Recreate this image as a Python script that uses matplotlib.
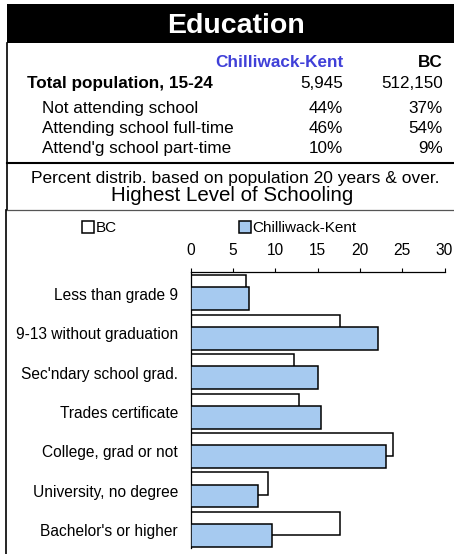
import matplotlib
matplotlib.use("Agg")
import matplotlib.pyplot as plt
from matplotlib.patches import Rectangle
from matplotlib.lines import Line2D

plt.rcParams['font.family'] = ['Liberation Sans', 'DejaVu Sans']

# header table
region = "Chilliwack-Kent"
province = "BC"
total_label = "Total population, 15-24"
total_ck = "5,945"
total_bc = "512,150"
row_labels = ["Not attending school", "Attending school full-time", "Attend'g school part-time"]
row_ck = ["44%", "46%", "10%"]
row_bc = ["37%", "54%", "9%"]

# chart data (percent)
categories = ["Less than grade 9", "9-13 without graduation", "Sec'ndary school grad.",
              "Trades certificate", "College, grad or not", "University, no degree",
              "Bachelor's or higher"]
bc_vals = [6.6, 17.6, 12.2, 12.8, 23.9, 9.1, 17.6]
ck_vals = [6.9, 22.1, 15.1, 15.4, 23.1, 8.0, 9.6]
xticks = [0, 5, 10, 15, 20, 25, 30]

W, H = 454, 554
fig = plt.figure(figsize=(W / 100, H / 100), dpi=100)

def fx(x):
    return x / W

def fy(y):
    return 1 - y / H

# title band
fig.patches.append(Rectangle((fx(7), fy(43)), fx(447), 39 / H, transform=fig.transFigure,
                             facecolor='black', edgecolor='none'))
fig.text(fx(236), fy(33), "Education", color='white', fontsize=20.5, fontweight='bold',
         ha='center', va='baseline')

# frame lines
fig.add_artist(Line2D([fx(7), fx(7)], [fy(43), fy(210)], color='black', lw=1.2))
fig.add_artist(Line2D([fx(7), fx(454)], [fy(163), fy(163)], color='black', lw=1.5))
fig.add_artist(Line2D([fx(6), fx(454)], [fy(210), fy(210)], color='#555555', lw=0.9))
fig.add_artist(Line2D([fx(6), fx(6)], [fy(210), fy(554)], color='black', lw=1.2))

# table text
fs = 12.3
fig.text(fx(343), fy(67), region, color='#4040D8', fontsize=fs, fontweight='bold',
         ha='right', va='baseline')
fig.text(fx(443), fy(67), province, color='black', fontsize=fs, fontweight='bold',
         ha='right', va='baseline')
fig.text(fx(27), fy(88), total_label, fontsize=fs, fontweight='bold', ha='left', va='baseline')
fig.text(fx(343), fy(88), total_ck, fontsize=fs, ha='right', va='baseline')
fig.text(fx(443), fy(88), total_bc, fontsize=fs, ha='right', va='baseline')
for i, lab in enumerate(row_labels):
    yb = 113 + 20 * i
    fig.text(fx(42), fy(yb), lab, fontsize=fs, ha='left', va='baseline')
    fig.text(fx(343), fy(yb), row_ck[i], fontsize=fs, ha='right', va='baseline')
    fig.text(fx(443), fy(yb), row_bc[i], fontsize=fs, ha='right', va='baseline')

fig.text(fx(235), fy(183), "Percent distrib. based on population 20 years & over.",
         fontsize=12.5, ha='center', va='baseline')
fig.text(fx(232), fy(201), "Highest Level of Schooling", fontsize=14.8,
         ha='center', va='baseline')

# bar chart
ax = fig.add_axes([fx(190.5), 1 - 548 / H, 254 / W, 276 / H])
pos = list(range(len(categories)))
b1 = ax.barh([p + 0.375 for p in pos], bc_vals, height=0.58, color='white',
             edgecolor='black', linewidth=1.1, label=province, zorder=2)
b2 = ax.barh([p + 0.68 for p in pos], ck_vals, height=0.58, color='#A6CAF0',
             edgecolor='black', linewidth=1.1, label=region, zorder=3)
ax.set_ylim(len(categories), 0)
ax.set_xlim(0, 30)
ax.set_yticks([p + 0.55 for p in pos])
ax.set_yticklabels(categories, fontsize=11.2)
ax.tick_params(axis='y', length=0, pad=9)
ax.set_xticks(xticks)
ax.xaxis.tick_top()
ax.tick_params(axis='x', labelsize=11.2, length=3, width=0.8, pad=7, direction='out')
for s in ['right', 'bottom']:
    ax.spines[s].set_visible(False)
ax.spines['left'].set_linewidth(0.9)
ax.spines['top'].set_linewidth(0.9)

fig.legend(handles=[b1, b2], loc='center', bbox_to_anchor=(fx(219), fy(228)),
           ncol=2, frameon=False, fontsize=11, handlelength=0.8, handleheight=0.8,
           handletextpad=0.1, columnspacing=8.0, borderaxespad=0, borderpad=0)

fig.savefig("out.png", dpi=100)
